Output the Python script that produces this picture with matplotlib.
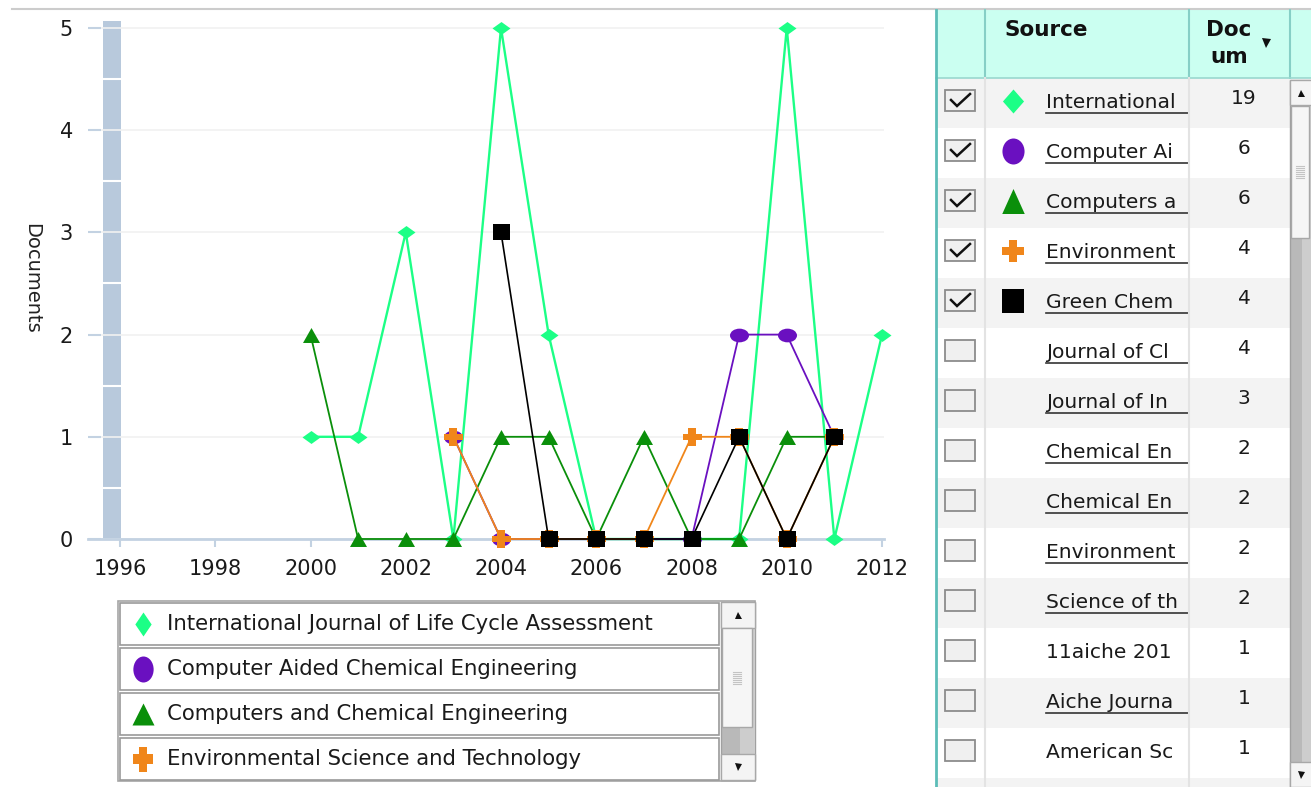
import numpy as np
import matplotlib
matplotlib.use("Agg")
import matplotlib.pyplot as plt
from matplotlib.path import Path
from matplotlib.patches import Rectangle
from matplotlib.transforms import Affine2D

# ---------------- data ----------------
ijlca_years = [2000, 2001, 2002, 2003, 2004, 2005, 2006, 2007, 2008, 2009, 2010, 2011, 2012]
ijlca_docs = [1, 1, 3, 0, 5, 2, 0, 0, 0, 0, 5, 0, 2]

cace_years = [2003, 2004, 2005, 2006, 2007, 2008, 2009, 2010, 2011]
cace_docs = [1, 0, 0, 0, 0, 0, 2, 2, 1]

cce_years = [2000, 2001, 2002, 2003, 2004, 2005, 2006, 2007, 2008, 2009, 2010, 2011]
cce_docs = [2, 0, 0, 0, 1, 1, 0, 1, 0, 0, 1, 1]

est_years = [2003, 2004, 2005, 2006, 2007, 2008, 2009, 2010, 2011]
est_docs = [1, 0, 0, 0, 0, 1, 1, 0, 1]

gc_years = [2004, 2005, 2006, 2007, 2008, 2009, 2010, 2011]
gc_docs = [3, 0, 0, 0, 0, 1, 0, 1]

legend_names = ["International Journal of Life Cycle Assessment",
                "Computer Aided Chemical Engineering",
                "Computers and Chemical Engineering",
                "Environmental Science and Technology"]

# source names as visible in the (narrow) table column
table_sources = ["International",
                 "Computer Ai",
                 "Computers a",
                 "Environment",
                 "Green Chem",
                 "Journal of Cl",
                 "Journal of In",
                 "Chemical En",
                 "Chemical En",
                 "Environment",
                 "Science of th",
                 "11aiche 201",
                 "Aiche Journa",
                 "American Sc"]
table_docs = [19, 6, 6, 4, 4, 4, 3, 2, 2, 2, 2, 1, 1, 1]
table_checked = [True] * 5 + [False] * 9
table_linked = [True] * 11 + [False, True, False]

x_ticks = [1996, 1998, 2000, 2002, 2004, 2006, 2008, 2010, 2012]
y_ticks = [0, 1, 2, 3, 4, 5]

# ---------------- styles ----------------
C_LIME = '#1cff86'
C_PURPLE = '#6a10c0'
C_GREEN = '#0a8f0a'
C_ORANGE = '#f0861a'
C_BLACK = '#000000'
AXC = '#c3d2e2'
PT = 0.72  # points per pixel at 100 dpi

plt.rcParams['font.family'] = ['DejaVu Sans']

def mk(kind, sx=1.0, sy=1.0):
    if kind == 'diamond':
        v = [(0, 1), (1, 0), (0, -1), (-1, 0), (0, 1)]
        p = Path(v, closed=True)
    elif kind == 'ellipse':
        p = Path.unit_circle()
    elif kind == 'triangle':
        v = [(-1, -1), (1, -1), (0, 1), (-1, -1)]
        p = Path(v, closed=True)
    elif kind == 'plus':
        a, b = 0.38, 1.0
        v = [(-a, b), (a, b), (a, a), (b, a), (b, -a), (a, -a), (a, -b), (-a, -b),
             (-a, -a), (-b, -a), (-b, a), (-a, a), (-a, b)]
        p = Path(v, closed=True)
    elif kind == 'square':
        v = [(-1, -1), (1, -1), (1, 1), (-1, 1), (-1, -1)]
        p = Path(v, closed=True)
    return p.transformed(Affine2D().scale(sx, sy))

W, H = 1311, 787
fig = plt.figure(figsize=(W / 100, H / 100), dpi=100)
fig.patch.set_facecolor('white')

ui = fig.add_axes([0, 0, 1, 1], zorder=0)
ui.set_xlim(0, W)
ui.set_ylim(H, 0)
ui.axis('off')

def fx(px):
    return px / W

def fy(py):
    return 1 - py / H

# ---------------- chart axes ----------------
ax = fig.add_axes([fx(88), fy(539), fx(884) - fx(88), fy(19) - fy(539)], zorder=2)
ax.patch.set_alpha(0)
ax.set_xlim(1995.328, 2012.042)
ax.set_ylim(0, 5.088)
ax.set_xticks(x_ticks)
ax.set_xticklabels([str(t) for t in x_ticks])
ax.set_yticks(y_ticks)
ax.tick_params(axis='x', direction='out', length=8 * PT, width=1.5, color=AXC,
               pad=12 * PT, labelsize=15, labelcolor='#1a1a1a')
ax.tick_params(axis='y', direction='in', length=13 * PT, width=1.5, color=AXC,
               pad=15 * PT, labelsize=15, labelcolor='#1a1a1a')
for s in ['left', 'right', 'top']:
    ax.spines[s].set_visible(False)
ax.spines['bottom'].set_color(AXC)
ax.spines['bottom'].set_linewidth(2)
ax.yaxis.grid(True, color='#f1f1f1', lw=1.2)
ax.set_axisbelow(True)

# range-selector bar at the left of the plot
bar_x0, bar_x1 = 1995.643, 1996.021
ax.add_patch(Rectangle((bar_x0, 0), bar_x1 - bar_x0, 5.07, facecolor='#b8c9dc',
                       edgecolor='none', zorder=0.5))
for yy in np.arange(0.5, 5, 1.0):
    ax.plot([bar_x0, bar_x1], [yy, yy], color='white', lw=1.5, zorder=0.6)

fig.text(fx(32), fy(278), 'Documents', rotation=-90, ha='center', va='center',
         fontsize=14, color='#222222')

ax.plot(ijlca_years, ijlca_docs, color=C_LIME, lw=1.7, marker=mk('diamond', 1, 0.72),
        ms=18 * PT, mew=0, clip_on=False, zorder=3)
ax.plot(cace_years, cace_docs, color=C_PURPLE, lw=1.3, marker=mk('ellipse', 1, 0.72),
        ms=19 * PT, mew=0, clip_on=False, zorder=4)
ax.plot(cce_years, cce_docs, color=C_GREEN, lw=1.3, marker=mk('triangle', 1, 0.88),
        ms=17 * PT, mew=0, clip_on=False, zorder=5)
ax.plot(est_years, est_docs, color=C_ORANGE, lw=1.3, marker=mk('plus', 1, 0.95),
        ms=19 * PT, mew=0, clip_on=False, zorder=6)
ax.plot(gc_years, gc_docs, color=C_BLACK, lw=1.2, marker=mk('square', 1, 0.92),
        ms=17 * PT, mew=0, clip_on=False, zorder=7)

# ---------------- top line ----------------
ui.plot([12, W], [9, 9], color='#cccccc', lw=1.5)

# ---------------- legend box ----------------
ui.add_patch(Rectangle((118, 601), 637, 180, facecolor='white', edgecolor='#a6a6a6', lw=1.2))
leg_markers = [(mk('diamond', 0.68, 1), C_LIME, 24),
               (mk('ellipse', 0.78, 1), C_PURPLE, 26),
               (mk('triangle', 1, 1), C_GREEN, 22),
               (mk('plus', 0.8, 1), C_ORANGE, 25)]
for i, name in enumerate(legend_names):
    y0 = 602 + i * 45
    ui.add_patch(Rectangle((120, y0 + 1), 599, 42, facecolor='white',
                           edgecolor='#9a9a9a', lw=1.2))
    cy = y0 + 22
    p, c, s = leg_markers[i]
    ui.plot([143], [cy], marker=p, ms=s * PT, color=c, mew=0, ls='none')
    ui.text(167, cy, name, ha='left', va='center', fontsize=15.3, color='#1a1a1a')

def scrollbar(x0, x1, y_top, y_bot, thumb0, thumb1, btn):
    ui.add_patch(Rectangle((x0, y_top), x1 - x0, y_bot - y_top, facecolor='#b9b9b9',
                           edgecolor='#a0a0a0', lw=1))
    ui.add_patch(Rectangle((x0 + (x1 - x0) * 0.55, y_top), (x1 - x0) * 0.45, y_bot - y_top,
                           facecolor='#cdcdcd', edgecolor='none'))
    ui.add_patch(Rectangle((x0, y_top), x1 - x0, btn, facecolor='#f4f4f4',
                           edgecolor='#a8a8a8', lw=1))
    ui.add_patch(Rectangle((x0, y_bot - btn), x1 - x0, btn, facecolor='#f4f4f4',
                           edgecolor='#a8a8a8', lw=1))
    xc = (x0 + x1) / 2
    ui.plot([xc], [y_top + btn / 2], marker='^', ms=7 * PT, color='#111111', mew=0)
    ui.plot([xc], [y_bot - btn / 2], marker='v', ms=7 * PT, color='#111111', mew=0)
    ui.add_patch(Rectangle((x0 + 1, thumb0), x1 - x0 - 4, thumb1 - thumb0,
                           facecolor='#f6f6f6', edgecolor='#a8a8a8', lw=1))
    gm = (thumb0 + thumb1) / 2
    for k in range(-3, 4):
        ui.plot([xc - 5, xc + 3], [gm + 2 * k, gm + 2 * k], color='#c4c4c4', lw=0.8)

scrollbar(721, 755, 602, 780, 628, 727, 26)

# ---------------- table ----------------
TX0, TX_SRC, TX_DOC, TX_SB, TX1 = 936, 985, 1189, 1290, W
HDR0, HDR1 = 10, 78
ROW_H = 50
ui.add_patch(Rectangle((TX0, HDR0), TX1 - TX0, HDR1 - HDR0, facecolor='#cbfff1',
                       edgecolor='none'))
for xx in [TX_SRC, TX_DOC, TX_SB]:
    ui.plot([xx, xx], [HDR0, HDR1], color='#86cfc6', lw=1.5)
ui.plot([TX0, TX1], [HDR1, HDR1], color='#9ad8cf', lw=1.2)
ui.text(1004, 30, 'Source', ha='left', va='center', fontsize=15.5, fontweight='bold',
        color='#111111')
ui.text(1229, 30, 'Doc', ha='center', va='center', fontsize=15.5, fontweight='bold',
        color='#111111')
ui.text(1229, 57, 'um', ha='center', va='center', fontsize=15.5, fontweight='bold',
        color='#111111')
ui.plot([1266], [43], marker='v', ms=9 * PT, color='#111111', mew=0)

n_rows = len(table_sources)
src_clip = Rectangle((TX_SRC, HDR1), TX_DOC - TX_SRC - 1, H - HDR1, transform=ui.transData)
row_markers = [(mk('diamond', 0.88, 1), C_LIME, 24),
               (mk('ellipse', 0.85, 1), C_PURPLE, 26),
               (mk('triangle', 0.9, 1), C_GREEN, 25),
               (mk('plus', 1, 1), C_ORANGE, 23),
               (mk('square', 0.9, 1), C_BLACK, 24)]
for i in range(n_rows + 1):
    y0 = HDR1 + i * ROW_H
    fc = '#f3f3f3' if i % 2 == 0 else 'white'
    ui.add_patch(Rectangle((TX0, y0), TX_SB - TX0, ROW_H, facecolor=fc, edgecolor='none'))
for i in range(n_rows):
    cy = HDR1 + i * ROW_H + 23
    ui.add_patch(Rectangle((945, cy - 11), 30, 21, facecolor='#f0f0f0',
                           edgecolor='#8c8c8c', lw=1.3))
    if table_checked[i]:
        ui.plot([951, 957, 970], [cy - 1, cy + 5, cy - 7], color='#111111', lw=1.8,
                solid_joinstyle='miter')
        p, c, s = row_markers[i]
        ui.plot([1013], [cy], marker=p, ms=s * PT, color=c, mew=0, ls='none')
    t = ui.text(1046, cy + 1, table_sources[i], ha='left', va='center', fontsize=14.6,
                color='#1a1a1a')
    t.set_clip_on(True)
    t.set_clip_path(src_clip)
    if table_linked[i]:
        ui.plot([1046, TX_DOC - 1], [cy + 12, cy + 12], color='#333333', lw=1.2)
    ui.text(1244, cy - 2, str(table_docs[i]), ha='center', va='center', fontsize=14.5,
            color='#1a1a1a')

ui.plot([TX_SRC, TX_SRC], [HDR1, H], color='#e3e3e3', lw=1.5)
ui.plot([TX_DOC, TX_DOC], [HDR1, H], color='#e3e3e3', lw=1.5)
ui.plot([TX0, TX0], [HDR0, H], color='#5cbdb8', lw=2)

scrollbar(1290, 1312, 80, 787, 106, 238, 25)

fig.savefig('out.png', dpi=100, facecolor='white')
